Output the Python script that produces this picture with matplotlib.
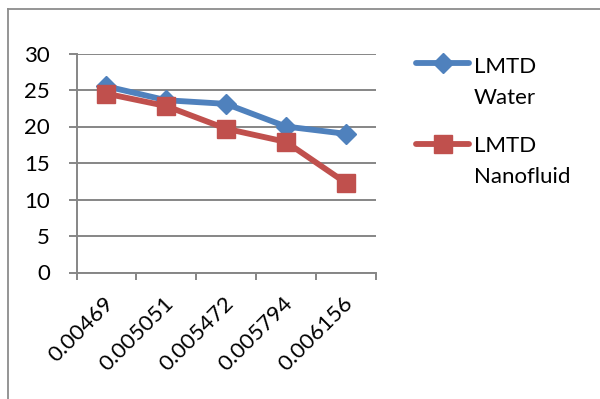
import matplotlib
matplotlib.use("Agg")
import matplotlib.pyplot as plt
from matplotlib.lines import Line2D
import numpy as np

plt.rcParams['font.family'] = ['Lato', 'DejaVu Sans']

# Data
categories = ["0.00469", "0.005051", "0.005472", "0.005794", "0.006156"]
lmtd_water = [25.5, 23.6, 23.1, 20.0, 19.0]
lmtd_nanofluid = [24.5, 22.8, 19.7, 17.9, 12.3]
series_names = [["LMTD", "Water"], ["LMTD", "Nanofluid"]]
y_ticks = [0, 5, 10, 15, 20, 25, 30]

BLUE = "#4F81BD"
RED = "#C0504D"
GRAY = "#868686"
FS = 16

W, H = 600, 399
fig = plt.figure(figsize=(W / 100, H / 100), dpi=100)

def fx(px):
    return px / W

def fy(py):
    return 1 - py / H

# Chart area border (top and left edges visible)
fig.add_artist(Line2D([fx(7.5), fx(7.5)], [fy(8.5), 0], color="#8C8C8C", lw=1.3,
                      transform=fig.transFigure))
fig.add_artist(Line2D([fx(7.5), 1], [fy(8.5), fy(8.5)], color="#8C8C8C", lw=1.3,
                      transform=fig.transFigure))

left, right, top, bottom = 76.5, 375.5, 53.5, 272.5
ax = fig.add_axes([fx(left), fy(bottom), fx(right) - fx(left), fy(top) - fy(bottom)])

x = np.arange(len(categories))
ax.plot(x, lmtd_water, color=BLUE, lw=4.2, marker="D", markersize=10,
        markerfacecolor=BLUE, markeredgecolor=BLUE, solid_capstyle="round", zorder=3)
ax.plot(x, lmtd_nanofluid, color=RED, lw=4.2, marker="s", markersize=13,
        markerfacecolor=RED, markeredgecolor=RED, solid_capstyle="round", zorder=4)

ax.set_xlim(-0.5, len(categories) - 0.5)
ax.set_ylim(0, 30)
ax.set_yticks(y_ticks)
ax.set_yticklabels([str(v) for v in y_ticks], fontsize=FS)
ax.yaxis.grid(True, color=GRAY, lw=1.4)
ax.set_axisbelow(True)

# Category boundary ticks on x axis
ax.set_xticks(np.arange(-0.5, len(categories), 1.0))
ax.set_xticklabels([])
ax.tick_params(axis="x", direction="out", length=5, width=1.4, color=GRAY)
ax.tick_params(axis="y", direction="out", length=6, width=1.4, color=GRAY, pad=13)

for side in ("top", "right"):
    ax.spines[side].set_visible(False)
for side in ("left", "bottom"):
    ax.spines[side].set_color(GRAY)
    ax.spines[side].set_linewidth(1.4)

# Rotated category labels
for xi, lab in zip(x, categories):
    ax.annotate(lab, xy=(xi, 0), xycoords=("data", "axes fraction"),
                xytext=(3, -20), textcoords="offset points",
                rotation=45, rotation_mode="anchor", ha="right", va="center",
                fontsize=FS)

# Legend
legend_items = [(series_names[0], BLUE, "D", 10, 63, (73, 104)),
                (series_names[1], RED, "s", 13, 144, (152, 183))]
for lines, col, mk, ms, ly, baselines in legend_items:
    fig.add_artist(Line2D([fx(416), fx(469)], [fy(ly), fy(ly)], color=col, lw=4.2,
                          solid_capstyle="round", transform=fig.transFigure))
    fig.add_artist(Line2D([fx(442.5)], [fy(ly)], color=col, marker=mk, markersize=ms,
                          markerfacecolor=col, markeredgecolor=col, lw=0,
                          transform=fig.transFigure))
    for txt, by in zip(lines, baselines):
        fig.text(fx(474), fy(by), txt, fontsize=FS, ha="left", va="baseline",
                 transform=fig.transFigure)

fig.savefig("out.png", dpi=100)
